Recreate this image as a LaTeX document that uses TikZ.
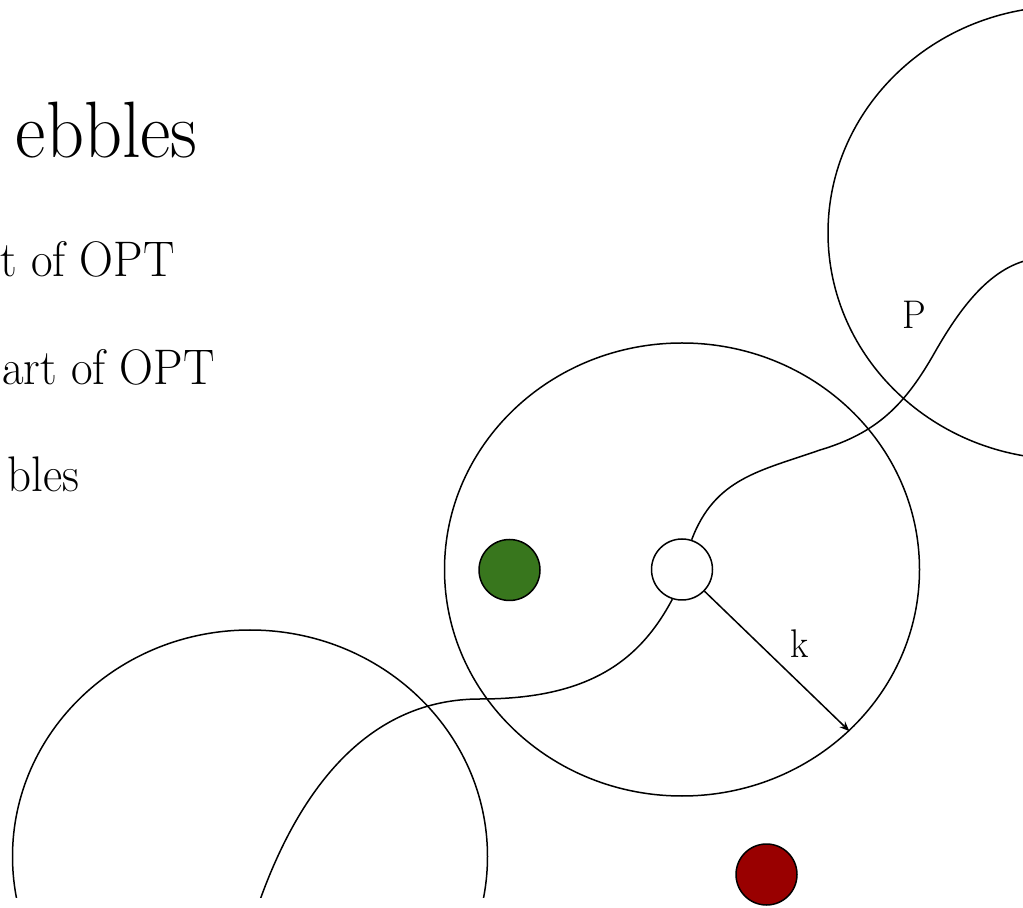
\documentclass[tikz,border=0pt]{standalone}
\usepackage{graphicx}
\usetikzlibrary{arrows.meta,shapes.geometric}
\definecolor{dotgreen}{HTML}{38761D}
\definecolor{dotred}{HTML}{990000}
\newcommand{\hsq}[1]{\scalebox{0.94}[1]{#1}}
\newcommand{\hsqt}[1]{\scalebox{0.93}[1]{#1}}
\tikzset{
  region/.style={ellipse, draw=black, line width=0.75pt, minimum width=237.5pt, minimum height=226.5pt, inner sep=0pt},
  dot/.style={circle, draw=black, line width=0.75pt, minimum size=30.5pt, inner sep=0pt},
  pathline/.style={line width=0.75pt},
  radius arrow/.style={line width=0.75pt, -{Stealth[length=5pt,width=4pt]}},
  label text/.style={font=\fontsize{20}{22}\selectfont, inner sep=0pt},
  bullet text/.style={font=\fontsize{25}{29}\selectfont, inner sep=0pt, anchor=base east},
  title text/.style={font=\fontsize{40}{46}\selectfont, inner sep=0pt, anchor=base east}
}
\begin{document}
\begin{tikzpicture}[x=0.5pt,y=-0.5pt]
\useasboundingbox (0,0) rectangle (1023,908);
% text
\node[title text] (title) at (198,158) {\hsqt{ebbles}};
\node[bullet text] (b1) at (175,277) {\hsq{t of OPT}};
\node[bullet text] (b2) at (215,385) {\hsq{art of OPT}};
\node[bullet text] (b3) at (80,492) {\hsq{bles}};
\begin{scope}
\clip (0,0) rectangle (1023,897);
\node[region] (top) at (1065.5,232.8) {};
\node[region] (mid) at (682,569.5) {};
\node[region] (low) at (250,856.5) {};
\node[dot, fill=white] (s) at (682,569.5) {};
\coordinate (c1) at (260,900);
\coordinate (c2) at (1040,258);
\draw[pathline] (c1) .. controls (301,786) and (370,699) .. (480,699)
  .. controls (590,699) and (640,660) .. (s.-108);
\draw[pathline] (s.72) .. controls (715,478) and (760,471) .. (820,450)
  .. controls (877,433) and (905,405) .. (935,352)
  .. controls (963,303) and (995,262) .. (c2);
\end{scope}
\node[dot, fill=dotgreen] (g) at (509.5,570) {};
\node[dot, fill=dotred] (r) at (766.5,874.5) {};
\draw[radius arrow] (s) -- (mid.-44);
\node[label text, anchor=base] (k) at (800,658) {\hsq{k}};
\node[label text, anchor=base] (p) at (914.5,329) {\hsq{P}};
\end{tikzpicture}
\end{document}
